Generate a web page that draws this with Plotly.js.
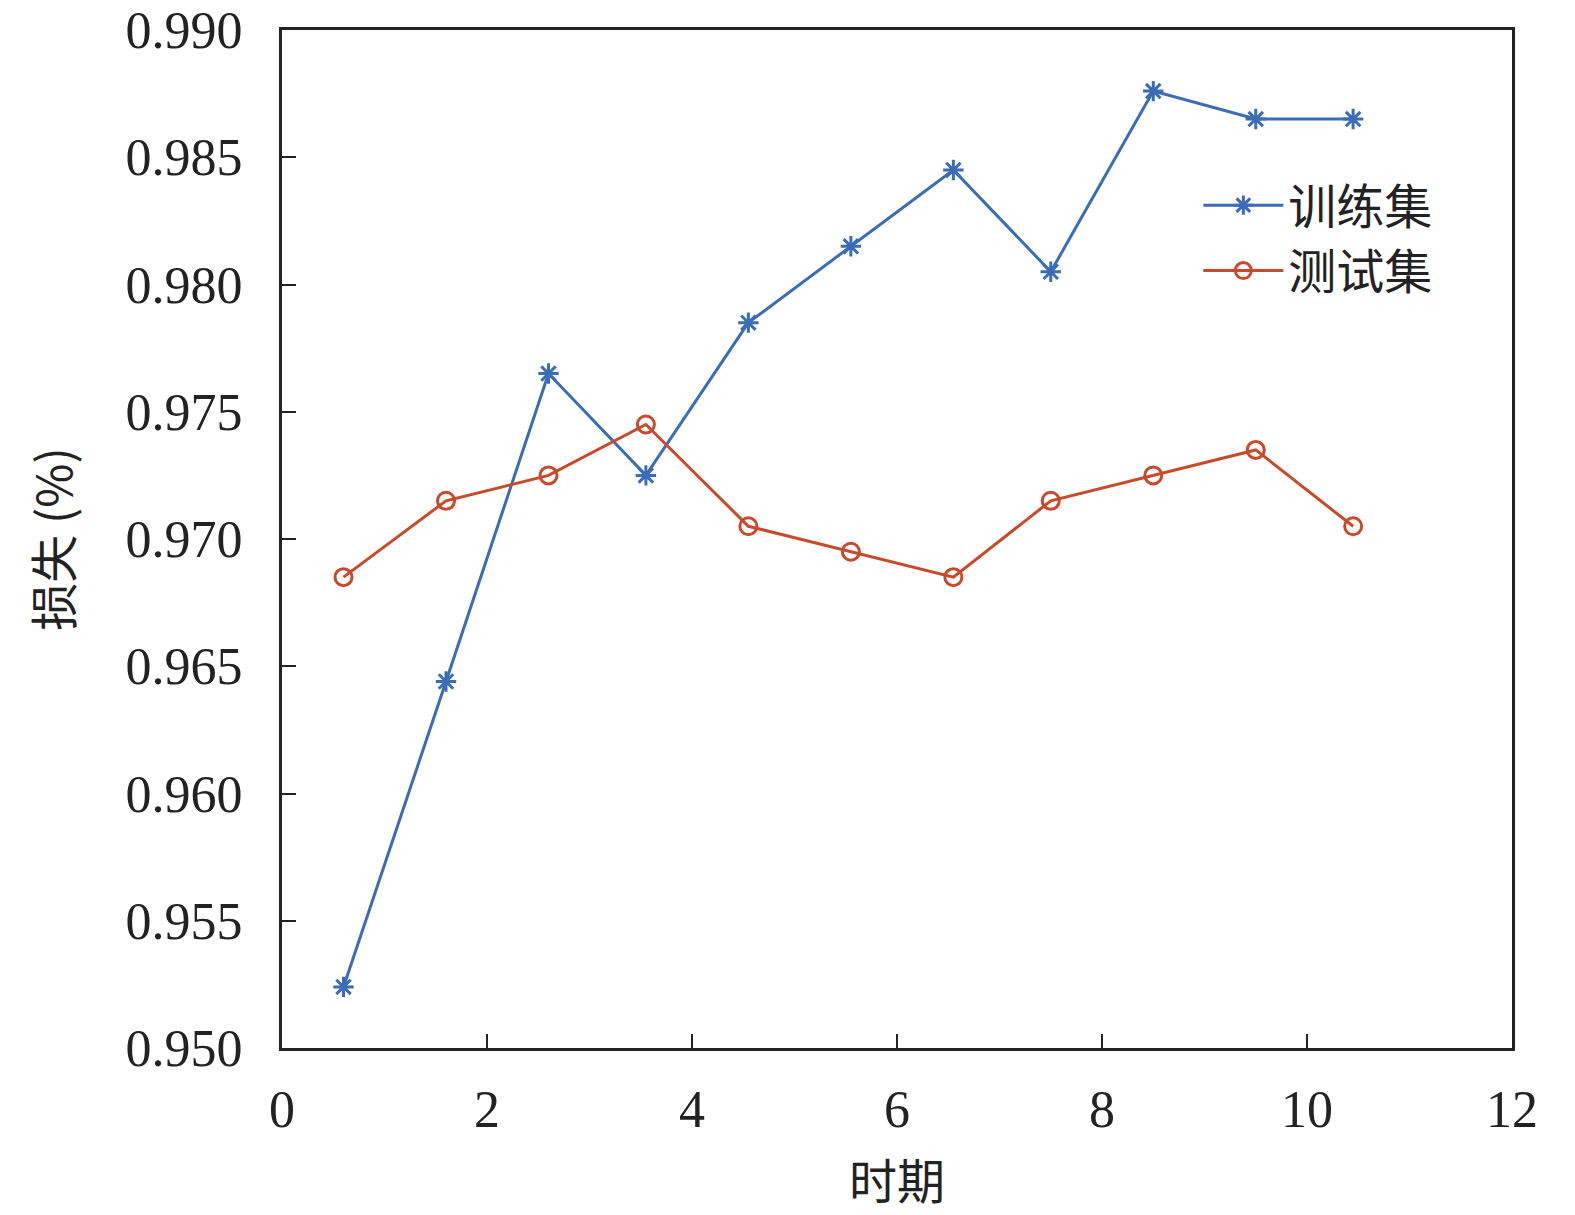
<!DOCTYPE html>
<html>
<head>
<meta charset="utf-8">
<script src="https://cdn.plot.ly/plotly-3.0.1.min.js"></script>
<style>
  html, body { margin: 0; padding: 0; background: #fff; }
  #chart { width: 1575px; height: 1215px; }
</style>
</head>
<body>
<div id="chart"></div>
<script>
// epoch positions and accuracy values
const epochs = [0.6, 1.6, 2.6, 3.55, 4.55, 5.55, 6.55, 7.5, 8.5, 9.5, 10.45];
const trainValues = [0.9524, 0.9644, 0.9765, 0.9725, 0.9785, 0.9815, 0.9845, 0.9805, 0.9876, 0.9865, 0.9865];
const testValues = [0.9685, 0.9715, 0.9725, 0.9745, 0.9705, 0.9695, 0.9685, 0.9715, 0.9725, 0.9735, 0.9705];
const xTicks = [0, 2, 4, 6, 8, 10, 12];
const yTicks = [0.950, 0.955, 0.960, 0.965, 0.970, 0.975, 0.980, 0.985, 0.990];

const serif = "Liberation Serif, Times New Roman, serif";
const cjk = "Noto Sans CJK SC, Liberation Serif, serif";

const traces = [
    {
        x: epochs, y: trainValues, name: "训练集",
        type: "scatter", mode: "lines+markers",
        line: { color: "#3a6db5", width: 3 },
        marker: { symbol: "asterisk-open", size: 17, color: "#3a6db5", line: { color: "#3a6db5", width: 3 } }
    },
    {
        x: epochs, y: testValues, name: "测试集",
        type: "scatter", mode: "lines+markers",
        line: { color: "#c9492b", width: 3 },
        marker: { symbol: "circle-open", size: 17, color: "#c9492b", line: { color: "#c9492b", width: 3 } }
    }
];

const layout = {
    width: 1575, height: 1215,
    margin: { l: 282, r: 63, t: 30, b: 167 },
    paper_bgcolor: "#fff", plot_bgcolor: "#fff",
    showlegend: true,
    legend: {
        x: 0.745, y: 0.865, xanchor: "left", yanchor: "top",
        font: { family: cjk, size: 48, color: "#222" },
        itemwidth: 80,
        bgcolor: "rgba(0,0,0,0)", tracegroupgap: 0
    },
    xaxis: {
        range: [0, 12],
        tickvals: xTicks, ticktext: xTicks.map(String),
        ticks: "inside", ticklen: 14, tickwidth: 2, tickcolor: "#222",
        showline: true, linecolor: "#222", linewidth: 3, mirror: true,
        showgrid: false, zeroline: false,
        ticklabelstandoff: 14,
        tickfont: { family: serif, size: 52, color: "#222" },
        title: { text: "时期", font: { family: cjk, size: 48, color: "#222" }, standoff: 28 }
    },
    yaxis: {
        range: [0.950, 0.990],
        tickvals: yTicks, ticktext: yTicks.map(v => v.toFixed(3)),
        ticks: "inside", ticklen: 14, tickwidth: 2, tickcolor: "#222",
        showline: true, linecolor: "#222", linewidth: 3, mirror: true,
        showgrid: false, zeroline: false,
        ticklabelstandoff: 26,
        tickfont: { family: serif, size: 52, color: "#222" },
        title: { text: "损失 (%)", font: { family: cjk, size: 48, color: "#222" }, standoff: 38 }
    }
};

Plotly.newPlot("chart", traces, layout, { displayModeBar: false, staticPlot: true });
</script>
</body>
</html>
